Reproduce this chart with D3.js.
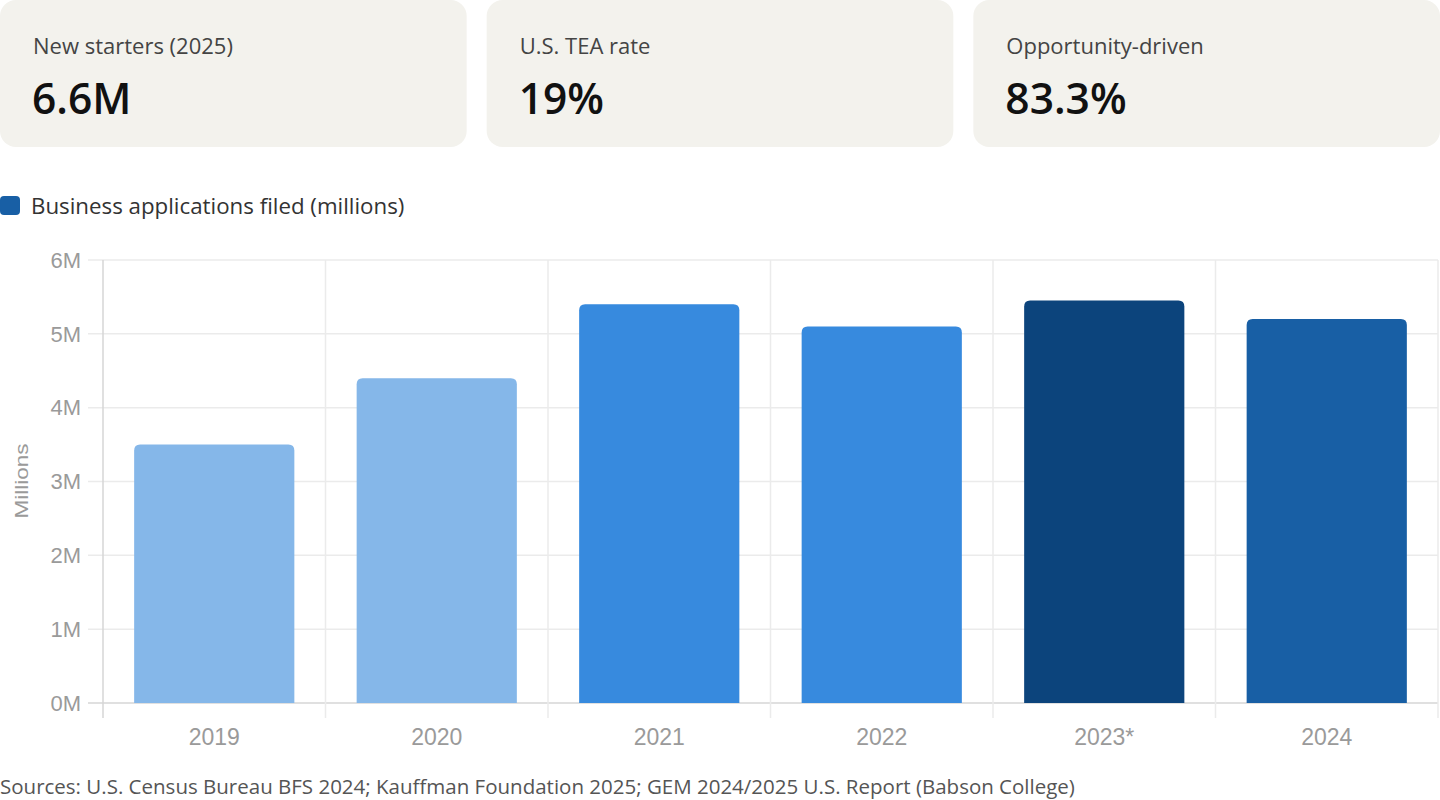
<!DOCTYPE html>
<html>
<head>
<meta charset="utf-8">
<script src="https://cdn.jsdelivr.net/npm/d3@7"></script>
<style>
  body { margin: 0; background: #fff; }
  svg { display: block; }
</style>
</head>
<body>
<svg id="chart"></svg>
<script>
const width = 1440, height = 800;

// kpi cards
const cardLabels = ["New starters (2025)", "U.S. TEA rate", "Opportunity-driven"];
const cardValues = ["6.6M", "19%", "83.3%"];

// bar data
const years = ["2019", "2020", "2021", "2022", "2023*", "2024"];
const applications = [3.5, 4.4, 5.4, 5.1, 5.45, 5.2];
const barColors = ["#85b7e9", "#85b7e9", "#378ade", "#378ade", "#0c447c", "#185fa5"];
const yTicks = [0, 1, 2, 3, 4, 5, 6];

const legendLabel = "Business applications filed (millions)";
const yTitle = "Millions";
const sources = "Sources: U.S. Census Bureau BFS 2024; Kauffman Foundation 2025; GEM 2024/2025 U.S. Report (Babson College)";

const uiFont = "'Open Sans', 'Noto Sans', sans-serif";
const axisFont = "'Liberation Sans', Arial, sans-serif";

const svg = d3.select("#chart")
    .attr("width", width)
    .attr("height", height);

// cards across the top
const cardGap = 20, cardH = 147;
const cardW = (width - 2 * cardGap) / 3;
const cards = svg.selectAll(".card")
    .data(cardLabels)
    .enter().append("g")
    .attr("class", "card")
    .attr("transform", (d, i) => `translate(${i * (cardW + cardGap)}, 0)`);

cards.append("rect")
    .attr("width", cardW)
    .attr("height", cardH)
    .attr("rx", 16)
    .attr("fill", "#f3f2ed");

cards.append("text")
    .attr("x", 33)
    .attr("y", 54)
    .attr("font-family", uiFont)
    .attr("font-size", "22px")
    .attr("fill", "#444")
    .text(d => d);

cards.append("text")
    .attr("x", 32)
    .attr("y", 114)
    .attr("font-family", uiFont)
    .attr("font-size", "42.5px")
    .attr("font-weight", 600)
    .attr("fill", "#111")
    .text((d, i) => cardValues[i]);

// legend
svg.append("rect")
    .attr("x", 0).attr("y", 196)
    .attr("width", 20).attr("height", 19)
    .attr("rx", 4)
    .attr("fill", "#185fa5");

svg.append("text")
    .attr("x", 31)
    .attr("y", 214)
    .attr("font-family", uiFont)
    .attr("font-size", "22.3px")
    .attr("fill", "#333")
    .text(legendLabel);

// plot area
const plotLeft = 103, plotRight = 1438, plotTop = 260, plotBottom = 703;

const x = d3.scaleBand()
    .domain(years)
    .range([plotLeft, plotRight])
    .paddingInner(0)
    .paddingOuter(0);

const y = d3.scaleLinear()
    .domain([0, 6])
    .range([plotBottom, plotTop]);

const g = svg.append("g");

// horizontal grid
g.selectAll(".hgrid")
    .data(yTicks)
    .enter().append("line")
    .attr("x1", plotLeft - 15)
    .attr("x2", plotRight)
    .attr("y1", d => y(d))
    .attr("y2", d => y(d))
    .attr("stroke", d => d == 0 ? "#d6d6d6" : "#ebebeb")
    .attr("stroke-width", 1.5);

// vertical grid at band edges
const edges = years.map(d => x(d)).concat([plotRight]);
g.selectAll(".vgrid")
    .data(edges)
    .enter().append("line")
    .attr("x1", d => d).attr("x2", d => d)
    .attr("y1", plotTop)
    .attr("y2", plotBottom + 15)
    .attr("stroke", (d, i) => i == 0 ? "#d6d6d6" : "#ebebeb")
    .attr("stroke-width", 1.5);

// y axis labels
g.selectAll(".ylab")
    .data(yTicks)
    .enter().append("text")
    .attr("x", 81)
    .attr("y", d => y(d))
    .attr("dy", "0.35em")
    .attr("text-anchor", "end")
    .attr("font-family", axisFont)
    .attr("font-size", "22px")
    .attr("fill", "#9a9a9a")
    .text(d => d + "M");

svg.append("text")
    .attr("transform", `translate(28, 481) rotate(-90)`)
    .attr("text-anchor", "middle")
    .attr("font-family", axisFont)
    .attr("font-size", "19px")
    .attr("textLength", 75)
    .attr("lengthAdjust", "spacingAndGlyphs")
    .attr("fill", "#9a9a9a")
    .text(yTitle);

// x axis labels
g.selectAll(".xlab")
    .data(years)
    .enter().append("text")
    .attr("x", d => x(d) + x.bandwidth() / 2)
    .attr("y", 745)
    .attr("text-anchor", "middle")
    .attr("font-family", axisFont)
    .attr("font-size", "23px")
    .attr("fill", "#9a9a9a")
    .text(d => d);

// bars with rounded tops
const barW = x.bandwidth() * 0.72;
const r = 6;
function barPath(x0, y0, w, h) {
    return `M${x0},${y0 + h} V${y0 + r} Q${x0},${y0} ${x0 + r},${y0} H${x0 + w - r} Q${x0 + w},${y0} ${x0 + w},${y0 + r} V${y0 + h} Z`;
}

g.selectAll(".bar")
    .data(applications)
    .enter().append("path")
    .attr("class", "bar")
    .attr("d", (d, i) => {
        const x0 = x(years[i]) + (x.bandwidth() - barW) / 2;
        return barPath(x0, y(d), barW, plotBottom - y(d));
    })
    .attr("fill", (d, i) => barColors[i]);

// sources
svg.append("text")
    .attr("x", 0)
    .attr("y", 794)
    .attr("font-family", uiFont)
    .attr("font-size", "20.5px")
    .attr("fill", "#555")
    .text(sources);
</script>
</body>
</html>
